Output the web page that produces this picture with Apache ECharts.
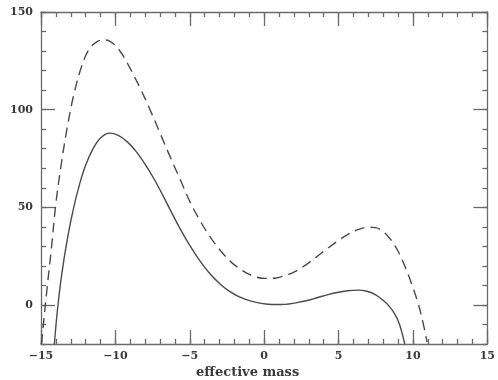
<!DOCTYPE html>
<html>
<head>
<meta charset="utf-8">
<script src="https://cdn.jsdelivr.net/npm/echarts@6/dist/echarts.min.js"></script>
<style>html,body{margin:0;padding:0;background:#fff}#c{width:498px;height:380px}</style>
</head>
<body>
<div id="c"></div>
<script>
const xLabel = 'effective mass';
const xTicks = [-15, -10, -5, 0, 5, 10, 15];
const yTicks = [0, 50, 100, 150];

const solidX = [-14.1, -13.9, -13.6, -13.2, -12.8, -12.4, -12.0, -11.5, -11.0, -10.4, -9.8, -9.2, -8.6, -8.0, -7.4, -6.8, -6.2, -5.6, -5.0, -4.4, -3.7, -3.0, -2.4, -1.7, -1.0, -0.2, 0.6, 1.4, 2.2, 2.9, 3.6, 4.3, 4.9, 5.6, 6.3, 6.9, 7.5, 8.0, 8.4, 8.8, 9.1, 9.45];
const solidY = [-20, -3, 16, 35, 50, 62, 71.5, 80, 85.5, 88, 86.8, 83.5, 78.5, 72, 64.5, 56, 47, 38.3, 30.5, 23.5, 16.5, 11, 7.3, 4.2, 2.2, 0.8, 0.2, 0.3, 1.2, 2.3, 3.8, 5.3, 6.4, 7.3, 7.6, 7, 5.2, 2.3, -0.6, -5, -10, -20];

const dashedX = [-14.97, -14.8, -14.6, -14.3, -14.0, -13.6, -13.2, -12.8, -12.3, -11.8, -11.2, -10.65, -10.1, -9.6, -9.0, -8.4, -7.7, -7.0, -6.3, -5.6, -5.0, -4.3, -3.6, -2.9, -2.2, -1.5, -0.8, 0, 0.7, 1.4, 2.1, 2.8, 3.5, 4.2, 4.9, 5.6, 6.3, 7.0, 7.5, 8.0, 8.5, 9.0, 9.5, 9.9, 10.3, 10.6, 10.95];
const dashedY = [-20, -7, 8, 29, 52, 74, 92.5, 107.5, 121.5, 130.5, 135, 135.7, 133.5, 129, 121, 112, 100.5, 88, 75.5, 63.5, 53, 43, 34.5, 27.5, 21.8, 17.8, 15, 13.6, 13.7, 15, 17.2, 20.5, 24.5, 28.6, 32.5, 36, 38.6, 39.8, 39.6, 37.5, 33.5, 27.5, 19, 11, 2, -6.5, -19];

const axisColor = '#6a6a6a';
const textColor = '#3a3a3a';
const font = 'DejaVu Serif';

function fmt(v) { return String(v).replace('-', '\u2212'); }

const chart = echarts.init(document.getElementById('c'), null, {renderer: 'canvas'});
const lineStyleAxis = {color: axisColor, width: 1.3};

const xMinor = {
  type: 'value', min: -15, max: 15, interval: 1,
  axisLine: {show: true, onZero: false, lineStyle: lineStyleAxis},
  axisTick: {show: true, inside: true, length: 5, lineStyle: lineStyleAxis},
  axisLabel: {show: false},
  splitLine: {show: false}
};
const xMajor = {
  type: 'value', min: -15, max: 15, interval: 5,
  axisLine: {show: false, onZero: false},
  axisTick: {show: true, inside: true, length: 14, lineStyle: lineStyleAxis},
  axisLabel: {show: false},
  splitLine: {show: false}
};
const yMinor = {
  type: 'value', min: -20, max: 150, interval: 10,
  axisLine: {show: true, onZero: false, lineStyle: lineStyleAxis},
  axisTick: {show: true, inside: true, length: 5, lineStyle: lineStyleAxis},
  axisLabel: {show: false},
  splitLine: {show: false}
};
const yMajor = {
  type: 'value', min: -20, max: 150, interval: 10,
  axisLine: {show: false, onZero: false},
  axisTick: {show: true, inside: true, length: 14, customValues: yTicks, lineStyle: lineStyleAxis},
  axisLabel: {show: false},
  splitLine: {show: false}
};

const option = {
  backgroundColor: '#fff',
  animation: false,
  grid: {left: 41, right: 7, top: 12, bottom: 36, containLabel: false},
  xAxis: [
    Object.assign({}, xMinor, {position: 'bottom'}),
    Object.assign({}, xMajor, {position: 'bottom',
      axisLabel: {show: true, margin: 7, color: textColor, fontFamily: font, fontSize: 11, fontWeight: 'bold', formatter: fmt}}),
    Object.assign({}, xMinor, {position: 'top'}),
    Object.assign({}, xMajor, {position: 'top'})
  ],
  yAxis: [
    Object.assign({}, yMinor, {position: 'left'}),
    Object.assign({}, yMajor, {position: 'left',
      axisLabel: {show: true, margin: 8, color: textColor, fontFamily: font, fontSize: 11, fontWeight: 'bold', customValues: yTicks, formatter: fmt}}),
    Object.assign({}, yMinor, {position: 'right'}),
    Object.assign({}, yMajor, {position: 'right'})
  ],
  graphic: [{
    type: 'text', left: 196, top: 366,
    style: {text: xLabel, fill: textColor, font: 'bold 13px "DejaVu Serif"'}
  }],
  series: [
    {
      type: 'line', xAxisIndex: 0, yAxisIndex: 0, showSymbol: false, symbol: 'none',
      smooth: 0.35,
      data: solidX.map((x, i) => [x, solidY[i]]),
      lineStyle: {color: '#4a4a4a', width: 1.4}
    },
    {
      type: 'line', xAxisIndex: 0, yAxisIndex: 0, showSymbol: false, symbol: 'none',
      smooth: 0.35,
      data: dashedX.map((x, i) => [x, dashedY[i]]),
      lineStyle: {color: '#4a4a4a', width: 1.4, type: [10, 6]}
    }
  ]
};
chart.setOption(option);
</script>
</body>
</html>
